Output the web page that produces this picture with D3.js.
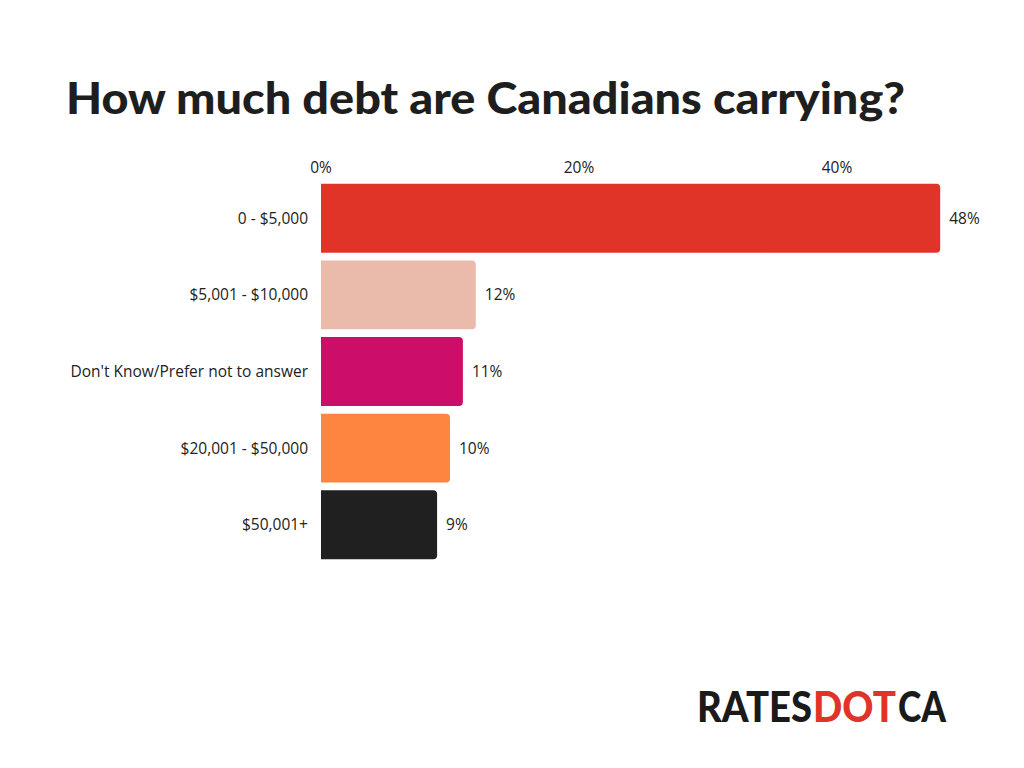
<!DOCTYPE html>
<html><head><meta charset="utf-8">
<script src="https://cdn.jsdelivr.net/npm/d3@7"></script>
<style>body{margin:0;background:#fff}</style>
</head><body><div id="chart"></div>
<script>
const categories = ["0 - $5,000", "$5,001 - $10,000", "Don't Know/Prefer not to answer", "$20,001 - $50,000", "$50,001+"];
const values = [48, 12, 11, 10, 9];
const colors = ["#e03428", "#eabaaa", "#cd0e69", "#fd8540", "#202020"];
const ticks = [0, 20, 40];

const svg = d3.select("#chart").append("svg").attr("width", 1024).attr("height", 768)
  .style("font-family", "'Open Sans', Lato, sans-serif");

// title
svg.append("text").attr("x", 66).attr("y", 114)
  .attr("font-size", 44).attr("font-weight", 900).attr("fill", "#1e1e1e")
  .style("font-family", "Lato, sans-serif")
  .attr("textLength", 839).attr("lengthAdjust", "spacingAndGlyphs")
  .text("How much debt are Canadians carrying?");

const x = d3.scaleLinear().domain([0, 40]).range([321, 837]);
const y = d3.scaleBand().domain(categories).range([180, 563]).paddingInner(0.1).paddingOuter(0.05);

// tick labels
svg.selectAll(".tick").data(ticks).enter().append("text")
  .attr("x", d => x(d)).attr("y", 173).attr("text-anchor", "middle")
  .attr("font-size", 15.5).attr("fill", "#222").text(d => d + "%");

// bars with rounded right corners
const r = 4;
svg.selectAll(".bar").data(values).enter().append("path")
  .attr("fill", (d, i) => colors[i])
  .attr("d", (d, i) => {
    const x0 = x(0), x1 = x(d), y0 = y(categories[i]), h = y.bandwidth();
    return `M${x0},${y0}H${x1 - r}Q${x1},${y0} ${x1},${y0 + r}V${y0 + h - r}Q${x1},${y0 + h} ${x1 - r},${y0 + h}H${x0}Z`;
  });

// category labels
svg.selectAll(".cat").data(categories).enter().append("text")
  .attr("x", 308).attr("y", d => y(d) + y.bandwidth() / 2).attr("dy", "0.35em")
  .attr("text-anchor", "end").attr("font-size", 15.5).attr("fill", "#222").text(d => d);

// value labels
svg.selectAll(".val").data(values).enter().append("text")
  .attr("x", d => x(d) + 9).attr("y", (d, i) => y(categories[i]) + y.bandwidth() / 2).attr("dy", "0.35em")
  .attr("font-size", 15.5).attr("fill", "#222").text(d => d + "%");

// logo
const logoParts = [["RATES", 697, 115, "#1a1a1a"], ["DOT", 813, 83, "#e03428"], ["CA", 898, 48, "#1a1a1a"]];
svg.selectAll(".logo").data(logoParts).enter().append("text")
  .attr("x", d => d[1]).attr("y", 722).attr("textLength", d => d[2])
  .attr("lengthAdjust", "spacingAndGlyphs")
  .attr("font-size", 42).attr("font-weight", 900).attr("fill", d => d[3])
  .style("font-family", "Lato, sans-serif").text(d => d[0]);
</script></body></html>
